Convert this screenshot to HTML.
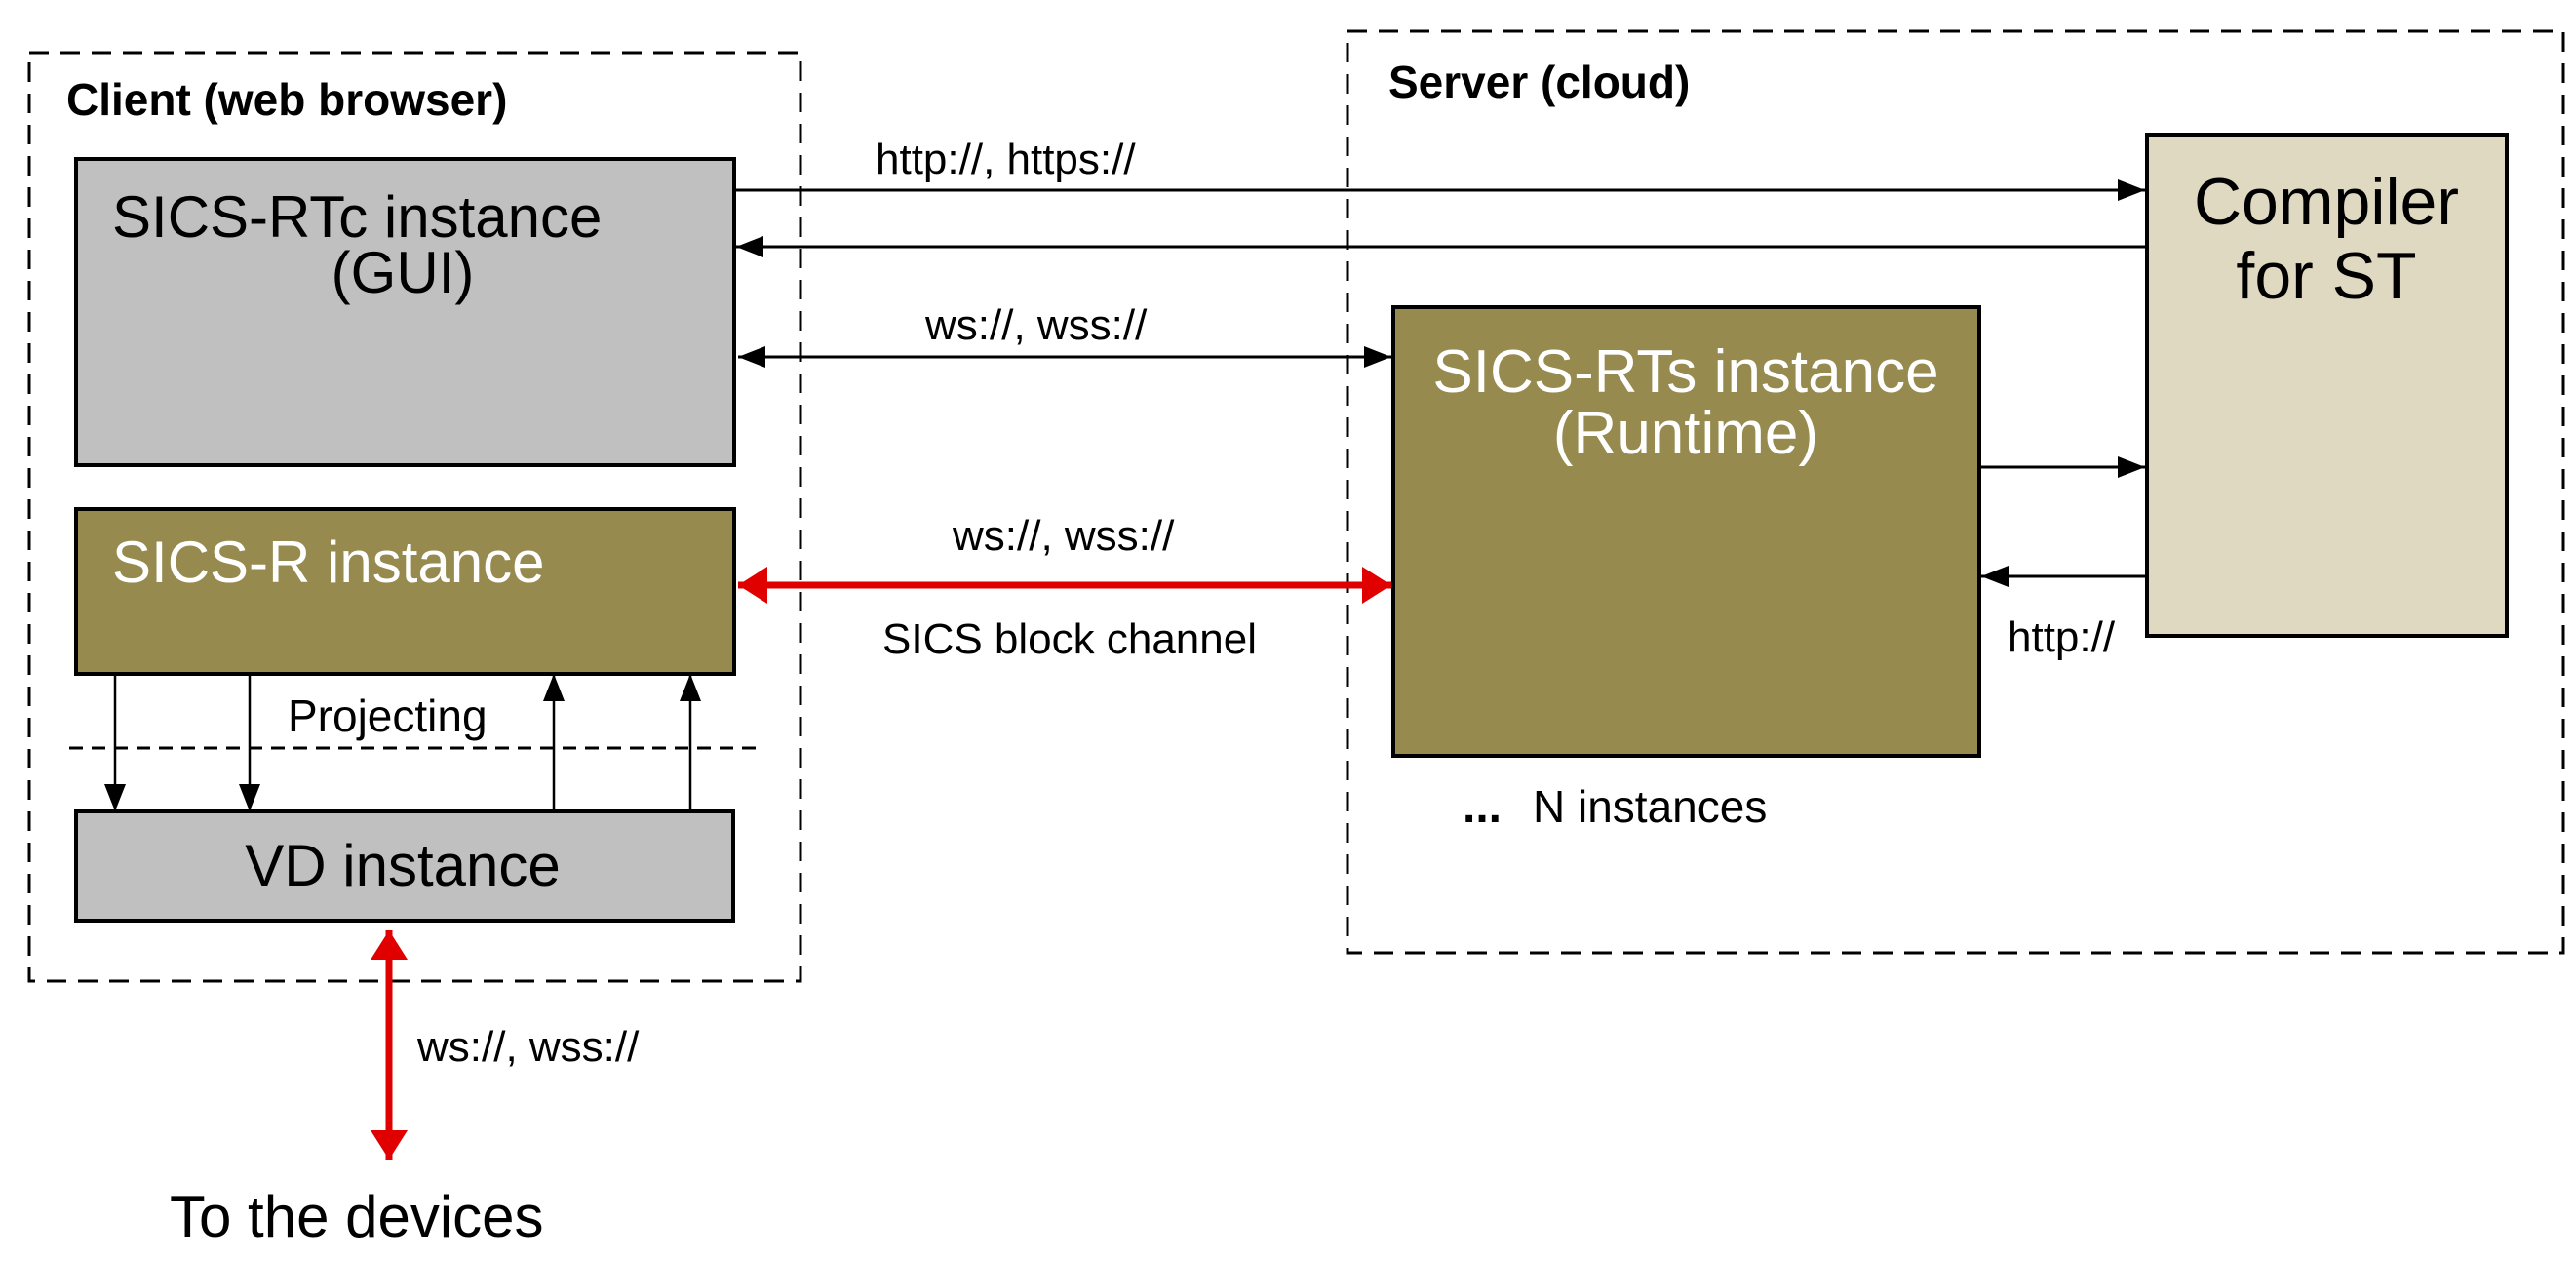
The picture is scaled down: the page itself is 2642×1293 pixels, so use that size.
<!DOCTYPE html>
<html><head><meta charset="utf-8"><style>
html,body{margin:0;padding:0;background:#fff;}
svg{display:block;}
text{font-family:"Liberation Sans",Arial,sans-serif;}
</style></head><body>
<svg width="2642" height="1293" viewBox="0 0 2642 1293" xmlns="http://www.w3.org/2000/svg">
<defs>
<marker id="ab" viewBox="0 0 10 10" refX="10" refY="5" markerWidth="28" markerHeight="22" markerUnits="userSpaceOnUse" orient="auto-start-reverse" preserveAspectRatio="none"><path d="M0,0 L10,5 L0,10 z" fill="#000"/></marker>
<marker id="ar" viewBox="0 0 10 10" refX="10" refY="5" markerWidth="30" markerHeight="38" markerUnits="userSpaceOnUse" orient="auto-start-reverse" preserveAspectRatio="none"><path d="M0,0 L10,5 L0,10 z" fill="#e00000"/></marker>
</defs>
<rect x="30" y="54" width="791" height="952" fill="none" stroke="#000" stroke-width="3" stroke-dasharray="20,12"/>
<text x="68" y="118" font-size="46" font-weight="bold">Client (web browser)</text>
<rect x="1382" y="32" width="1247" height="945" fill="none" stroke="#000" stroke-width="3" stroke-dasharray="20,12"/>
<text x="1424" y="100" font-size="46" font-weight="bold">Server (cloud)</text>

<rect x="78" y="163" width="675" height="314" fill="#c0c0c0" stroke="#000" stroke-width="4"/>
<text x="115" y="243" font-size="60">SICS-RTc instance</text>
<text x="413" y="300" font-size="60" text-anchor="middle">(GUI)</text>

<rect x="78" y="522" width="675" height="169" fill="#978a4f" stroke="#000" stroke-width="4"/>
<text x="115" y="597" font-size="60" fill="#fff">SICS-R instance</text>

<text x="295" y="750" font-size="46">Projecting</text>
<line x1="71" y1="767" x2="775" y2="767" stroke="#000" stroke-width="3" stroke-dasharray="14,9"/>

<rect x="78" y="832" width="674" height="112" fill="#c0c0c0" stroke="#000" stroke-width="4"/>
<text x="413" y="908" font-size="60" text-anchor="middle">VD instance</text>

<line x1="118" y1="691" x2="118" y2="832" stroke="#000" stroke-width="2.5" marker-end="url(#ab)"/>
<line x1="256" y1="691" x2="256" y2="832" stroke="#000" stroke-width="2.5" marker-end="url(#ab)"/>
<line x1="568" y1="832" x2="568" y2="691" stroke="#000" stroke-width="2.5" marker-end="url(#ab)"/>
<line x1="708" y1="832" x2="708" y2="691" stroke="#000" stroke-width="2.5" marker-end="url(#ab)"/>

<line x1="399" y1="954" x2="399" y2="1189" stroke="#e00000" stroke-width="7" marker-start="url(#ar)" marker-end="url(#ar)"/>
<text x="428" y="1088" font-size="44">ws://, wss://</text>
<text x="174" y="1268" font-size="60">To the devices</text>

<rect x="2202" y="138" width="369" height="514" fill="#dfd9c1" stroke="#000" stroke-width="4"/>
<text x="2386" y="230" font-size="68" text-anchor="middle">Compiler</text>
<text x="2386" y="306" font-size="68" text-anchor="middle">for ST</text>

<rect x="1429" y="315" width="601" height="460" fill="#978a4f" stroke="#000" stroke-width="4"/>
<text x="1729" y="402" font-size="62" fill="#fff" text-anchor="middle">SICS-RTs instance</text>
<text x="1729" y="465" font-size="62" fill="#fff" text-anchor="middle">(Runtime)</text>
<text x="1500" y="843" font-size="48" font-weight="bold">...</text>
<text x="1572" y="843" font-size="46">N instances</text>

<line x1="755" y1="195" x2="2200" y2="195" stroke="#000" stroke-width="3" marker-end="url(#ab)"/>
<text x="898" y="178" font-size="44">http://, https://</text>
<line x1="2202" y1="253" x2="755" y2="253" stroke="#000" stroke-width="3" marker-end="url(#ab)"/>
<line x1="757" y1="366" x2="1427" y2="366" stroke="#000" stroke-width="3" marker-start="url(#ab)" marker-end="url(#ab)"/>
<text x="949" y="348" font-size="44">ws://, wss://</text>

<line x1="757" y1="600" x2="1427" y2="600" stroke="#e00000" stroke-width="7" marker-start="url(#ar)" marker-end="url(#ar)"/>
<text x="977" y="564" font-size="44">ws://, wss://</text>
<text x="905" y="670" font-size="44">SICS block channel</text>

<line x1="2030" y1="479" x2="2200" y2="479" stroke="#000" stroke-width="3" marker-end="url(#ab)"/>
<line x1="2202" y1="591" x2="2032" y2="591" stroke="#000" stroke-width="3" marker-end="url(#ab)"/>
<text x="2059" y="668" font-size="44">http://</text>
</svg>
</body></html>
